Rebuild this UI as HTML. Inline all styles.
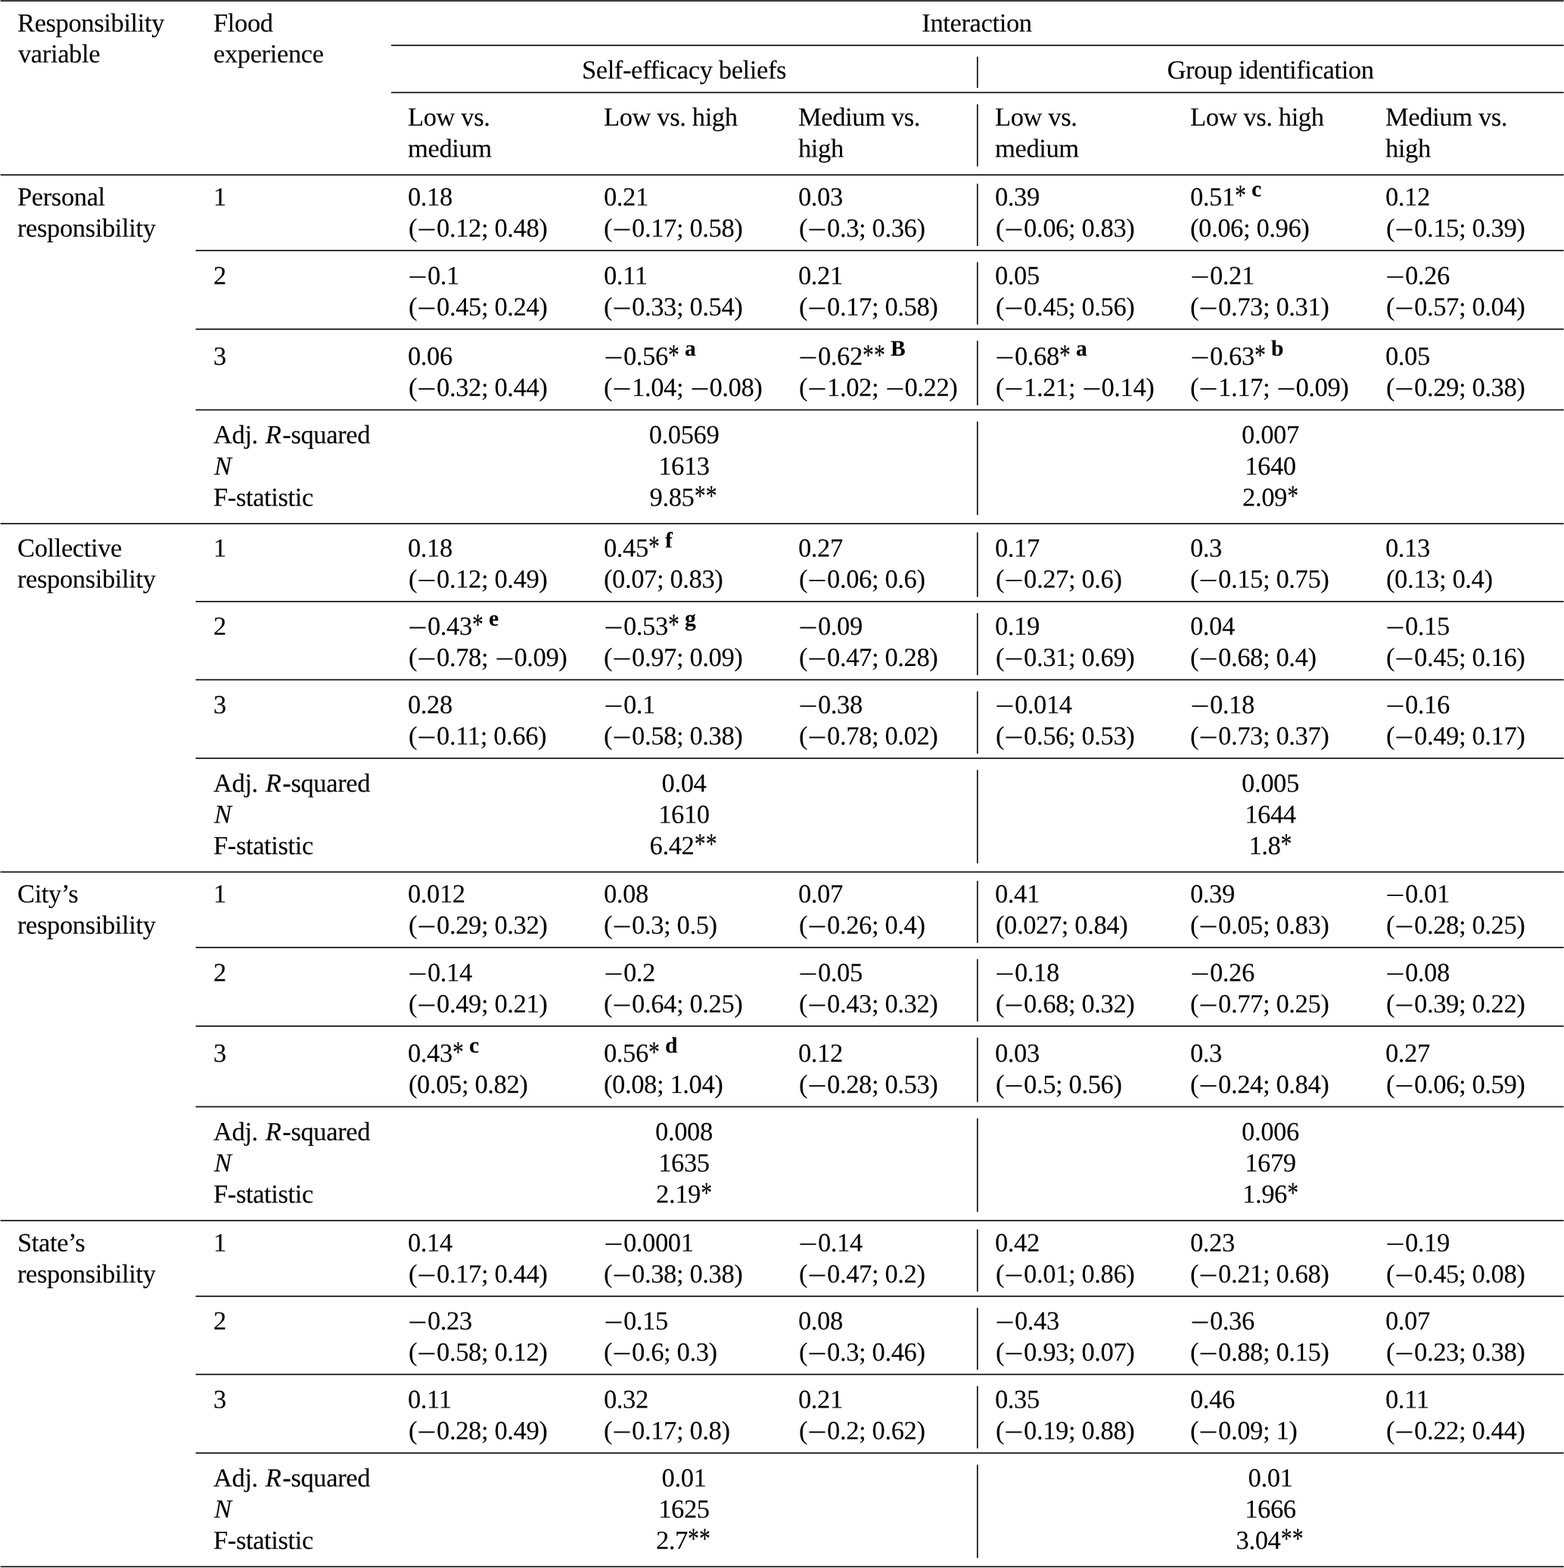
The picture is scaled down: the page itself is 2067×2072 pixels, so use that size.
<!DOCTYPE html>
<html lang="en"><head><meta charset="utf-8"><title>Table: interaction effects</title>
<style>
html,body{margin:0;padding:0;background:#fff;}
body{width:2067px;height:2072px;position:relative;overflow:hidden;
 font-family:"Liberation Serif","Times New Roman",Times,serif;font-size:34.5px;line-height:40.0px;letter-spacing:-0.375px;color:#000;text-rendering:geometricPrecision;-webkit-text-stroke:0.12px #000;}
.rules{position:absolute;left:0;top:0;fill:#111;}
.t{position:absolute;white-space:pre;height:40.0px;}
.m{display:inline-block;width:26px;text-align:center;letter-spacing:0;position:relative;top:2.4px;left:0.3px;transform:scaleX(1.30);}
.a{display:inline-block;width:15px;text-align:center;text-indent:-1.1px;position:relative;top:-2.5px;left:0.3px;letter-spacing:0;transform:scale(0.86,1.14);}
.s{font-weight:bold;font-size:29.5px;position:relative;top:-12.2px;margin-left:7.2px;line-height:0;letter-spacing:-0.5px;}
.sc{}
.g1{margin-right:1.6px}
.g2{margin-right:1.9px}
</style></head>
<body>
<svg class="rules" width="2067" height="2072" viewBox="0 0 2067 2072">
<rect x="0.60" y="0.30" width="2066.00" height="1.70"/>
<rect x="517.00" y="59.05" width="1549.60" height="1.70"/>
<rect x="517.00" y="121.45" width="1549.60" height="1.70"/>
<rect x="0.60" y="230.25" width="2066.00" height="1.70"/>
<rect x="258.60" y="330.23" width="1808.00" height="1.70"/>
<rect x="258.60" y="434.13" width="1808.00" height="1.70"/>
<rect x="258.60" y="540.75" width="1808.00" height="1.70"/>
<rect x="0.60" y="691.06" width="2066.00" height="1.70"/>
<rect x="258.60" y="794.03" width="1808.00" height="1.70"/>
<rect x="258.60" y="897.43" width="1808.00" height="1.70"/>
<rect x="258.60" y="1001.15" width="1808.00" height="1.70"/>
<rect x="0.60" y="1151.45" width="2066.00" height="1.70"/>
<rect x="258.60" y="1251.23" width="1808.00" height="1.70"/>
<rect x="258.60" y="1355.14" width="1808.00" height="1.70"/>
<rect x="258.60" y="1461.63" width="1808.00" height="1.70"/>
<rect x="0.60" y="1612.00" width="2066.00" height="1.70"/>
<rect x="258.60" y="1712.06" width="1808.00" height="1.70"/>
<rect x="258.60" y="1815.40" width="1808.00" height="1.70"/>
<rect x="258.60" y="1919.23" width="1808.00" height="1.70"/>
<rect x="0.60" y="2069.41" width="2066.00" height="1.70"/>
<rect x="1290.95" y="74.85" width="1.70" height="41.40"/>
<rect x="1290.95" y="137.80" width="1.70" height="81.95"/>
<rect x="1290.95" y="242.75" width="1.70" height="82.23"/>
<rect x="1290.95" y="346.38" width="1.70" height="82.50"/>
<rect x="1290.95" y="450.28" width="1.70" height="85.22"/>
<rect x="1290.95" y="557.00" width="1.70" height="123.51"/>
<rect x="1290.95" y="703.56" width="1.70" height="85.22"/>
<rect x="1290.95" y="810.18" width="1.70" height="82.00"/>
<rect x="1290.95" y="913.58" width="1.70" height="82.32"/>
<rect x="1290.95" y="1017.40" width="1.70" height="123.50"/>
<rect x="1290.95" y="1163.95" width="1.70" height="82.03"/>
<rect x="1290.95" y="1267.38" width="1.70" height="82.51"/>
<rect x="1290.95" y="1371.29" width="1.70" height="85.09"/>
<rect x="1290.95" y="1477.88" width="1.70" height="123.57"/>
<rect x="1290.95" y="1624.50" width="1.70" height="82.31"/>
<rect x="1290.95" y="1728.21" width="1.70" height="81.94"/>
<rect x="1290.95" y="1831.55" width="1.70" height="82.43"/>
<rect x="1290.95" y="1935.48" width="1.70" height="123.38"/>
</svg>
<div class="t" style="left:22.50px;top:10px;transform:translateY(0.75px) rotate(0.03deg)">Responsibility</div>
<div class="t" style="left:23.80px;top:51px;transform:translateY(0.50px) rotate(0.03deg)">variable</div>
<div class="t" style="left:281.60px;top:10px;transform:translateY(0.75px) rotate(0.03deg)">Flood</div>
<div class="t" style="left:281.60px;top:51px;transform:translateY(0.50px) rotate(0.03deg)">experience</div>
<div class="t" style="left:1290.60px;top:10px;transform:translate(-50%,0.75px) rotate(0.03deg)">Interaction</div>
<div class="t" style="left:904.00px;top:72px;transform:translate(-50%,0.75px) rotate(0.03deg)">Self-efficacy beliefs</div>
<div class="t" style="left:1679.00px;top:72px;transform:translate(-50%,0.75px) rotate(0.03deg)">Group identification</div>
<div class="t" style="left:539.10px;top:135px;transform:translateY(0.00px) rotate(0.03deg)">Low vs.</div>
<div class="t" style="left:539.10px;top:176px;transform:translateY(0.50px) rotate(0.03deg)">medium</div>
<div class="t" style="left:797.80px;top:135px;transform:translateY(0.00px) rotate(0.03deg)">Low vs. high</div>
<div class="t" style="left:1055.30px;top:135px;transform:translateY(0.00px) rotate(0.03deg)">Medium vs.</div>
<div class="t" style="left:1055.30px;top:176px;transform:translateY(0.50px) rotate(0.03deg)">high</div>
<div class="t" style="left:1315.10px;top:135px;transform:translateY(0.00px) rotate(0.03deg)">Low vs.</div>
<div class="t" style="left:1315.10px;top:176px;transform:translateY(0.50px) rotate(0.03deg)">medium</div>
<div class="t" style="left:1572.50px;top:135px;transform:translateY(0.00px) rotate(0.03deg)">Low vs. high</div>
<div class="t" style="left:1831.30px;top:135px;transform:translateY(0.00px) rotate(0.03deg)">Medium vs.</div>
<div class="t" style="left:1831.30px;top:176px;transform:translateY(0.50px) rotate(0.03deg)">high</div>
<div class="t" style="left:22.50px;top:240px;transform:translateY(0.50px) rotate(0.03deg)">Personal</div>
<div class="t" style="left:22.50px;top:281px;transform:translateY(0.75px) rotate(0.03deg)">responsibility</div>
<div class="t" style="left:281.60px;top:240px;transform:translateY(0.50px) rotate(0.03deg)">1</div>
<div class="t" style="left:539.10px;top:240px;transform:translateY(0.50px) rotate(0.03deg)">0.18</div>
<div class="t" style="left:539.70px;top:281px;transform:translateY(0.75px) rotate(0.03deg)">(<span class="m">−</span>0.12<span class="sc">;</span> 0.48)</div>
<div class="t" style="left:797.80px;top:240px;transform:translateY(0.50px) rotate(0.03deg)">0.21</div>
<div class="t" style="left:798.40px;top:281px;transform:translateY(0.75px) rotate(0.03deg)">(<span class="m">−</span>0.17<span class="sc">;</span> 0.58)</div>
<div class="t" style="left:1055.30px;top:240px;transform:translateY(0.50px) rotate(0.03deg)">0.03</div>
<div class="t" style="left:1055.90px;top:281px;transform:translateY(0.75px) rotate(0.03deg)">(<span class="m">−</span>0.3<span class="sc">;</span> 0.36)</div>
<div class="t" style="left:1315.10px;top:240px;transform:translateY(0.50px) rotate(0.03deg)">0.39</div>
<div class="t" style="left:1315.70px;top:281px;transform:translateY(0.75px) rotate(0.03deg)">(<span class="m">−</span>0.06<span class="sc">;</span> 0.83)</div>
<div class="t" style="left:1572.50px;top:240px;transform:translateY(0.50px) rotate(0.03deg)">0.51<span class="a">*</span><span class="s">c</span></div>
<div class="t" style="left:1573.10px;top:281px;transform:translateY(0.75px) rotate(0.03deg)">(0.06<span class="sc">;</span> 0.96)</div>
<div class="t" style="left:1831.30px;top:240px;transform:translateY(0.50px) rotate(0.03deg)">0.12</div>
<div class="t" style="left:1831.90px;top:281px;transform:translateY(0.75px) rotate(0.03deg)">(<span class="m">−</span>0.15<span class="sc">;</span> 0.39)</div>
<div class="t" style="left:281.60px;top:344px;transform:translateY(0.50px) rotate(0.03deg)">2</div>
<div class="t" style="left:539.10px;top:344px;transform:translateY(0.50px) rotate(0.03deg)"><span class="m">−</span>0.1</div>
<div class="t" style="left:539.70px;top:385px;transform:translateY(0.75px) rotate(0.03deg)">(<span class="m">−</span>0.45<span class="sc">;</span> 0.24)</div>
<div class="t" style="left:797.80px;top:344px;transform:translateY(0.50px) rotate(0.03deg)">0.11</div>
<div class="t" style="left:798.40px;top:385px;transform:translateY(0.75px) rotate(0.03deg)">(<span class="m">−</span>0.33<span class="sc">;</span> 0.54)</div>
<div class="t" style="left:1055.30px;top:344px;transform:translateY(0.50px) rotate(0.03deg)">0.21</div>
<div class="t" style="left:1055.90px;top:385px;transform:translateY(0.75px) rotate(0.03deg)">(<span class="m">−</span>0.17<span class="sc">;</span> 0.58)</div>
<div class="t" style="left:1315.10px;top:344px;transform:translateY(0.50px) rotate(0.03deg)">0.05</div>
<div class="t" style="left:1315.70px;top:385px;transform:translateY(0.75px) rotate(0.03deg)">(<span class="m">−</span>0.45<span class="sc">;</span> 0.56)</div>
<div class="t" style="left:1572.50px;top:344px;transform:translateY(0.50px) rotate(0.03deg)"><span class="m">−</span>0.21</div>
<div class="t" style="left:1573.10px;top:385px;transform:translateY(0.75px) rotate(0.03deg)">(<span class="m">−</span>0.73<span class="sc">;</span> 0.31)</div>
<div class="t" style="left:1831.30px;top:344px;transform:translateY(0.50px) rotate(0.03deg)"><span class="m">−</span>0.26</div>
<div class="t" style="left:1831.90px;top:385px;transform:translateY(0.75px) rotate(0.03deg)">(<span class="m">−</span>0.57<span class="sc">;</span> 0.04)</div>
<div class="t" style="left:281.60px;top:451px;transform:translateY(0.00px) rotate(0.03deg)">3</div>
<div class="t" style="left:539.10px;top:451px;transform:translateY(0.00px) rotate(0.03deg)">0.06</div>
<div class="t" style="left:539.70px;top:492px;transform:translateY(0.25px) rotate(0.03deg)">(<span class="m">−</span>0.32<span class="sc">;</span> 0.44)</div>
<div class="t" style="left:797.80px;top:451px;transform:translateY(0.00px) rotate(0.03deg)"><span class="m">−</span>0.56<span class="a">*</span><span class="s">a</span></div>
<div class="t" style="left:798.40px;top:492px;transform:translateY(0.25px) rotate(0.03deg)">(<span class="m">−</span>1.04<span class="sc">;</span> <span class="m">−</span>0.08)</div>
<div class="t" style="left:1055.30px;top:451px;transform:translateY(0.00px) rotate(0.03deg)"><span class="m">−</span>0.62<span class="a">*</span><span class="a">*</span><span class="s">B</span></div>
<div class="t" style="left:1055.90px;top:492px;transform:translateY(0.25px) rotate(0.03deg)">(<span class="m">−</span>1.02<span class="sc">;</span> <span class="m">−</span>0.22)</div>
<div class="t" style="left:1315.10px;top:451px;transform:translateY(0.00px) rotate(0.03deg)"><span class="m">−</span>0.68<span class="a">*</span><span class="s">a</span></div>
<div class="t" style="left:1315.70px;top:492px;transform:translateY(0.25px) rotate(0.03deg)">(<span class="m">−</span>1.21<span class="sc">;</span> <span class="m">−</span>0.14)</div>
<div class="t" style="left:1572.50px;top:451px;transform:translateY(0.00px) rotate(0.03deg)"><span class="m">−</span>0.63<span class="a">*</span><span class="s">b</span></div>
<div class="t" style="left:1573.10px;top:492px;transform:translateY(0.25px) rotate(0.03deg)">(<span class="m">−</span>1.17<span class="sc">;</span> <span class="m">−</span>0.09)</div>
<div class="t" style="left:1831.30px;top:451px;transform:translateY(0.00px) rotate(0.03deg)">0.05</div>
<div class="t" style="left:1831.90px;top:492px;transform:translateY(0.25px) rotate(0.03deg)">(<span class="m">−</span>0.29<span class="sc">;</span> 0.38)</div>
<div class="t" style="left:281.60px;top:554px;transform:translateY(0.75px) rotate(0.03deg)">Adj.<span class="g1"> </span><i class="g2">R</i>-squared</div>
<div class="t" style="left:283.10px;top:596px;transform:translateY(0.25px) rotate(0.03deg)"><i>N</i></div>
<div class="t" style="left:281.60px;top:637px;transform:translateY(0.50px) rotate(0.03deg)">F-statistic</div>
<div class="t" style="left:904.00px;top:554px;transform:translate(-50%,0.75px) rotate(0.03deg)">0.0569</div>
<div class="t" style="left:904.00px;top:596px;transform:translate(-50%,0.25px) rotate(0.03deg)">1613</div>
<div class="t" style="left:902.60px;top:637px;transform:translate(-50%,0.50px) rotate(0.03deg)">9.85<span class="a">*</span><span class="a">*</span></div>
<div class="t" style="left:1679.00px;top:554px;transform:translate(-50%,0.75px) rotate(0.03deg)">0.007</div>
<div class="t" style="left:1679.00px;top:596px;transform:translate(-50%,0.25px) rotate(0.03deg)">1640</div>
<div class="t" style="left:1679.00px;top:637px;transform:translate(-50%,0.50px) rotate(0.03deg)">2.09<span class="a">*</span></div>
<div class="t" style="left:22.50px;top:704px;transform:translateY(0.50px) rotate(0.03deg)">Collective</div>
<div class="t" style="left:22.50px;top:745px;transform:translateY(0.50px) rotate(0.03deg)">responsibility</div>
<div class="t" style="left:281.60px;top:704px;transform:translateY(0.50px) rotate(0.03deg)">1</div>
<div class="t" style="left:539.10px;top:704px;transform:translateY(0.50px) rotate(0.03deg)">0.18</div>
<div class="t" style="left:539.70px;top:745px;transform:translateY(0.50px) rotate(0.03deg)">(<span class="m">−</span>0.12<span class="sc">;</span> 0.49)</div>
<div class="t" style="left:797.80px;top:704px;transform:translateY(0.50px) rotate(0.03deg)">0.45<span class="a">*</span><span class="s">f</span></div>
<div class="t" style="left:798.40px;top:745px;transform:translateY(0.50px) rotate(0.03deg)">(0.07<span class="sc">;</span> 0.83)</div>
<div class="t" style="left:1055.30px;top:704px;transform:translateY(0.50px) rotate(0.03deg)">0.27</div>
<div class="t" style="left:1055.90px;top:745px;transform:translateY(0.50px) rotate(0.03deg)">(<span class="m">−</span>0.06<span class="sc">;</span> 0.6)</div>
<div class="t" style="left:1315.10px;top:704px;transform:translateY(0.50px) rotate(0.03deg)">0.17</div>
<div class="t" style="left:1315.70px;top:745px;transform:translateY(0.50px) rotate(0.03deg)">(<span class="m">−</span>0.27<span class="sc">;</span> 0.6)</div>
<div class="t" style="left:1572.50px;top:704px;transform:translateY(0.50px) rotate(0.03deg)">0.3</div>
<div class="t" style="left:1573.10px;top:745px;transform:translateY(0.50px) rotate(0.03deg)">(<span class="m">−</span>0.15<span class="sc">;</span> 0.75)</div>
<div class="t" style="left:1831.30px;top:704px;transform:translateY(0.50px) rotate(0.03deg)">0.13</div>
<div class="t" style="left:1831.90px;top:745px;transform:translateY(0.50px) rotate(0.03deg)">(0.13<span class="sc">;</span> 0.4)</div>
<div class="t" style="left:281.60px;top:807px;transform:translateY(0.75px) rotate(0.03deg)">2</div>
<div class="t" style="left:539.10px;top:807px;transform:translateY(0.75px) rotate(0.03deg)"><span class="m">−</span>0.43<span class="a">*</span><span class="s">e</span></div>
<div class="t" style="left:539.70px;top:849px;transform:translateY(0.00px) rotate(0.03deg)">(<span class="m">−</span>0.78<span class="sc">;</span> <span class="m">−</span>0.09)</div>
<div class="t" style="left:797.80px;top:807px;transform:translateY(0.75px) rotate(0.03deg)"><span class="m">−</span>0.53<span class="a">*</span><span class="s">g</span></div>
<div class="t" style="left:798.40px;top:849px;transform:translateY(0.00px) rotate(0.03deg)">(<span class="m">−</span>0.97<span class="sc">;</span> 0.09)</div>
<div class="t" style="left:1055.30px;top:807px;transform:translateY(0.75px) rotate(0.03deg)"><span class="m">−</span>0.09</div>
<div class="t" style="left:1055.90px;top:849px;transform:translateY(0.00px) rotate(0.03deg)">(<span class="m">−</span>0.47<span class="sc">;</span> 0.28)</div>
<div class="t" style="left:1315.10px;top:807px;transform:translateY(0.75px) rotate(0.03deg)">0.19</div>
<div class="t" style="left:1315.70px;top:849px;transform:translateY(0.00px) rotate(0.03deg)">(<span class="m">−</span>0.31<span class="sc">;</span> 0.69)</div>
<div class="t" style="left:1572.50px;top:807px;transform:translateY(0.75px) rotate(0.03deg)">0.04</div>
<div class="t" style="left:1573.10px;top:849px;transform:translateY(0.00px) rotate(0.03deg)">(<span class="m">−</span>0.68<span class="sc">;</span> 0.4)</div>
<div class="t" style="left:1831.30px;top:807px;transform:translateY(0.75px) rotate(0.03deg)"><span class="m">−</span>0.15</div>
<div class="t" style="left:1831.90px;top:849px;transform:translateY(0.00px) rotate(0.03deg)">(<span class="m">−</span>0.45<span class="sc">;</span> 0.16)</div>
<div class="t" style="left:281.60px;top:911px;transform:translateY(0.50px) rotate(0.03deg)">3</div>
<div class="t" style="left:539.10px;top:911px;transform:translateY(0.50px) rotate(0.03deg)">0.28</div>
<div class="t" style="left:539.70px;top:952px;transform:translateY(0.75px) rotate(0.03deg)">(<span class="m">−</span>0.11<span class="sc">;</span> 0.66)</div>
<div class="t" style="left:797.80px;top:911px;transform:translateY(0.50px) rotate(0.03deg)"><span class="m">−</span>0.1</div>
<div class="t" style="left:798.40px;top:952px;transform:translateY(0.75px) rotate(0.03deg)">(<span class="m">−</span>0.58<span class="sc">;</span> 0.38)</div>
<div class="t" style="left:1055.30px;top:911px;transform:translateY(0.50px) rotate(0.03deg)"><span class="m">−</span>0.38</div>
<div class="t" style="left:1055.90px;top:952px;transform:translateY(0.75px) rotate(0.03deg)">(<span class="m">−</span>0.78<span class="sc">;</span> 0.02)</div>
<div class="t" style="left:1315.10px;top:911px;transform:translateY(0.50px) rotate(0.03deg)"><span class="m">−</span>0.014</div>
<div class="t" style="left:1315.70px;top:952px;transform:translateY(0.75px) rotate(0.03deg)">(<span class="m">−</span>0.56<span class="sc">;</span> 0.53)</div>
<div class="t" style="left:1572.50px;top:911px;transform:translateY(0.50px) rotate(0.03deg)"><span class="m">−</span>0.18</div>
<div class="t" style="left:1573.10px;top:952px;transform:translateY(0.75px) rotate(0.03deg)">(<span class="m">−</span>0.73<span class="sc">;</span> 0.37)</div>
<div class="t" style="left:1831.30px;top:911px;transform:translateY(0.50px) rotate(0.03deg)"><span class="m">−</span>0.16</div>
<div class="t" style="left:1831.90px;top:952px;transform:translateY(0.75px) rotate(0.03deg)">(<span class="m">−</span>0.49<span class="sc">;</span> 0.17)</div>
<div class="t" style="left:281.60px;top:1015px;transform:translateY(0.25px) rotate(0.03deg)">Adj.<span class="g1"> </span><i class="g2">R</i>-squared</div>
<div class="t" style="left:283.10px;top:1056px;transform:translateY(0.50px) rotate(0.03deg)"><i>N</i></div>
<div class="t" style="left:281.60px;top:1097px;transform:translateY(0.75px) rotate(0.03deg)">F-statistic</div>
<div class="t" style="left:904.00px;top:1015px;transform:translate(-50%,0.25px) rotate(0.03deg)">0.04</div>
<div class="t" style="left:904.00px;top:1056px;transform:translate(-50%,0.50px) rotate(0.03deg)">1610</div>
<div class="t" style="left:902.60px;top:1097px;transform:translate(-50%,0.75px) rotate(0.03deg)">6.42<span class="a">*</span><span class="a">*</span></div>
<div class="t" style="left:1679.00px;top:1015px;transform:translate(-50%,0.25px) rotate(0.03deg)">0.005</div>
<div class="t" style="left:1679.00px;top:1056px;transform:translate(-50%,0.50px) rotate(0.03deg)">1644</div>
<div class="t" style="left:1679.00px;top:1097px;transform:translate(-50%,0.75px) rotate(0.03deg)">1.8<span class="a">*</span></div>
<div class="t" style="left:22.50px;top:1161px;transform:translateY(0.50px) rotate(0.03deg)">City’s</div>
<div class="t" style="left:22.50px;top:1202px;transform:translateY(0.75px) rotate(0.03deg)">responsibility</div>
<div class="t" style="left:281.60px;top:1161px;transform:translateY(0.50px) rotate(0.03deg)">1</div>
<div class="t" style="left:539.10px;top:1161px;transform:translateY(0.50px) rotate(0.03deg)">0.012</div>
<div class="t" style="left:539.70px;top:1202px;transform:translateY(0.75px) rotate(0.03deg)">(<span class="m">−</span>0.29<span class="sc">;</span> 0.32)</div>
<div class="t" style="left:797.80px;top:1161px;transform:translateY(0.50px) rotate(0.03deg)">0.08</div>
<div class="t" style="left:798.40px;top:1202px;transform:translateY(0.75px) rotate(0.03deg)">(<span class="m">−</span>0.3<span class="sc">;</span> 0.5)</div>
<div class="t" style="left:1055.30px;top:1161px;transform:translateY(0.50px) rotate(0.03deg)">0.07</div>
<div class="t" style="left:1055.90px;top:1202px;transform:translateY(0.75px) rotate(0.03deg)">(<span class="m">−</span>0.26<span class="sc">;</span> 0.4)</div>
<div class="t" style="left:1315.10px;top:1161px;transform:translateY(0.50px) rotate(0.03deg)">0.41</div>
<div class="t" style="left:1315.70px;top:1202px;transform:translateY(0.75px) rotate(0.03deg)">(0.027<span class="sc">;</span> 0.84)</div>
<div class="t" style="left:1572.50px;top:1161px;transform:translateY(0.50px) rotate(0.03deg)">0.39</div>
<div class="t" style="left:1573.10px;top:1202px;transform:translateY(0.75px) rotate(0.03deg)">(<span class="m">−</span>0.05<span class="sc">;</span> 0.83)</div>
<div class="t" style="left:1831.30px;top:1161px;transform:translateY(0.50px) rotate(0.03deg)"><span class="m">−</span>0.01</div>
<div class="t" style="left:1831.90px;top:1202px;transform:translateY(0.75px) rotate(0.03deg)">(<span class="m">−</span>0.28<span class="sc">;</span> 0.25)</div>
<div class="t" style="left:281.60px;top:1265px;transform:translateY(0.50px) rotate(0.03deg)">2</div>
<div class="t" style="left:539.10px;top:1265px;transform:translateY(0.50px) rotate(0.03deg)"><span class="m">−</span>0.14</div>
<div class="t" style="left:539.70px;top:1306px;transform:translateY(0.75px) rotate(0.03deg)">(<span class="m">−</span>0.49<span class="sc">;</span> 0.21)</div>
<div class="t" style="left:797.80px;top:1265px;transform:translateY(0.50px) rotate(0.03deg)"><span class="m">−</span>0.2</div>
<div class="t" style="left:798.40px;top:1306px;transform:translateY(0.75px) rotate(0.03deg)">(<span class="m">−</span>0.64<span class="sc">;</span> 0.25)</div>
<div class="t" style="left:1055.30px;top:1265px;transform:translateY(0.50px) rotate(0.03deg)"><span class="m">−</span>0.05</div>
<div class="t" style="left:1055.90px;top:1306px;transform:translateY(0.75px) rotate(0.03deg)">(<span class="m">−</span>0.43<span class="sc">;</span> 0.32)</div>
<div class="t" style="left:1315.10px;top:1265px;transform:translateY(0.50px) rotate(0.03deg)"><span class="m">−</span>0.18</div>
<div class="t" style="left:1315.70px;top:1306px;transform:translateY(0.75px) rotate(0.03deg)">(<span class="m">−</span>0.68<span class="sc">;</span> 0.32)</div>
<div class="t" style="left:1572.50px;top:1265px;transform:translateY(0.50px) rotate(0.03deg)"><span class="m">−</span>0.26</div>
<div class="t" style="left:1573.10px;top:1306px;transform:translateY(0.75px) rotate(0.03deg)">(<span class="m">−</span>0.77<span class="sc">;</span> 0.25)</div>
<div class="t" style="left:1831.30px;top:1265px;transform:translateY(0.50px) rotate(0.03deg)"><span class="m">−</span>0.08</div>
<div class="t" style="left:1831.90px;top:1306px;transform:translateY(0.75px) rotate(0.03deg)">(<span class="m">−</span>0.39<span class="sc">;</span> 0.22)</div>
<div class="t" style="left:281.60px;top:1372px;transform:translateY(0.00px) rotate(0.03deg)">3</div>
<div class="t" style="left:539.10px;top:1372px;transform:translateY(0.00px) rotate(0.03deg)">0.43<span class="a">*</span><span class="s">c</span></div>
<div class="t" style="left:539.70px;top:1413px;transform:translateY(0.25px) rotate(0.03deg)">(0.05<span class="sc">;</span> 0.82)</div>
<div class="t" style="left:797.80px;top:1372px;transform:translateY(0.00px) rotate(0.03deg)">0.56<span class="a">*</span><span class="s">d</span></div>
<div class="t" style="left:798.40px;top:1413px;transform:translateY(0.25px) rotate(0.03deg)">(0.08<span class="sc">;</span> 1.04)</div>
<div class="t" style="left:1055.30px;top:1372px;transform:translateY(0.00px) rotate(0.03deg)">0.12</div>
<div class="t" style="left:1055.90px;top:1413px;transform:translateY(0.25px) rotate(0.03deg)">(<span class="m">−</span>0.28<span class="sc">;</span> 0.53)</div>
<div class="t" style="left:1315.10px;top:1372px;transform:translateY(0.00px) rotate(0.03deg)">0.03</div>
<div class="t" style="left:1315.70px;top:1413px;transform:translateY(0.25px) rotate(0.03deg)">(<span class="m">−</span>0.5<span class="sc">;</span> 0.56)</div>
<div class="t" style="left:1572.50px;top:1372px;transform:translateY(0.00px) rotate(0.03deg)">0.3</div>
<div class="t" style="left:1573.10px;top:1413px;transform:translateY(0.25px) rotate(0.03deg)">(<span class="m">−</span>0.24<span class="sc">;</span> 0.84)</div>
<div class="t" style="left:1831.30px;top:1372px;transform:translateY(0.00px) rotate(0.03deg)">0.27</div>
<div class="t" style="left:1831.90px;top:1413px;transform:translateY(0.25px) rotate(0.03deg)">(<span class="m">−</span>0.06<span class="sc">;</span> 0.59)</div>
<div class="t" style="left:281.60px;top:1475px;transform:translateY(0.75px) rotate(0.03deg)">Adj.<span class="g1"> </span><i class="g2">R</i>-squared</div>
<div class="t" style="left:283.10px;top:1517px;transform:translateY(0.00px) rotate(0.03deg)"><i>N</i></div>
<div class="t" style="left:281.60px;top:1558px;transform:translateY(0.25px) rotate(0.03deg)">F-statistic</div>
<div class="t" style="left:904.00px;top:1475px;transform:translate(-50%,0.75px) rotate(0.03deg)">0.008</div>
<div class="t" style="left:904.00px;top:1517px;transform:translate(-50%,0.00px) rotate(0.03deg)">1635</div>
<div class="t" style="left:904.00px;top:1558px;transform:translate(-50%,0.25px) rotate(0.03deg)">2.19<span class="a">*</span></div>
<div class="t" style="left:1679.00px;top:1475px;transform:translate(-50%,0.75px) rotate(0.03deg)">0.006</div>
<div class="t" style="left:1679.00px;top:1517px;transform:translate(-50%,0.00px) rotate(0.03deg)">1679</div>
<div class="t" style="left:1679.00px;top:1558px;transform:translate(-50%,0.25px) rotate(0.03deg)">1.96<span class="a">*</span></div>
<div class="t" style="left:22.50px;top:1622px;transform:translateY(0.50px) rotate(0.03deg)">State’s</div>
<div class="t" style="left:22.50px;top:1663px;transform:translateY(0.75px) rotate(0.03deg)">responsibility</div>
<div class="t" style="left:281.60px;top:1622px;transform:translateY(0.50px) rotate(0.03deg)">1</div>
<div class="t" style="left:539.10px;top:1622px;transform:translateY(0.50px) rotate(0.03deg)">0.14</div>
<div class="t" style="left:539.70px;top:1663px;transform:translateY(0.75px) rotate(0.03deg)">(<span class="m">−</span>0.17<span class="sc">;</span> 0.44)</div>
<div class="t" style="left:797.80px;top:1622px;transform:translateY(0.50px) rotate(0.03deg)"><span class="m">−</span>0.0001</div>
<div class="t" style="left:798.40px;top:1663px;transform:translateY(0.75px) rotate(0.03deg)">(<span class="m">−</span>0.38<span class="sc">;</span> 0.38)</div>
<div class="t" style="left:1055.30px;top:1622px;transform:translateY(0.50px) rotate(0.03deg)"><span class="m">−</span>0.14</div>
<div class="t" style="left:1055.90px;top:1663px;transform:translateY(0.75px) rotate(0.03deg)">(<span class="m">−</span>0.47<span class="sc">;</span> 0.2)</div>
<div class="t" style="left:1315.10px;top:1622px;transform:translateY(0.50px) rotate(0.03deg)">0.42</div>
<div class="t" style="left:1315.70px;top:1663px;transform:translateY(0.75px) rotate(0.03deg)">(<span class="m">−</span>0.01<span class="sc">;</span> 0.86)</div>
<div class="t" style="left:1572.50px;top:1622px;transform:translateY(0.50px) rotate(0.03deg)">0.23</div>
<div class="t" style="left:1573.10px;top:1663px;transform:translateY(0.75px) rotate(0.03deg)">(<span class="m">−</span>0.21<span class="sc">;</span> 0.68)</div>
<div class="t" style="left:1831.30px;top:1622px;transform:translateY(0.50px) rotate(0.03deg)"><span class="m">−</span>0.19</div>
<div class="t" style="left:1831.90px;top:1663px;transform:translateY(0.75px) rotate(0.03deg)">(<span class="m">−</span>0.45<span class="sc">;</span> 0.08)</div>
<div class="t" style="left:281.60px;top:1725px;transform:translateY(0.75px) rotate(0.03deg)">2</div>
<div class="t" style="left:539.10px;top:1725px;transform:translateY(0.75px) rotate(0.03deg)"><span class="m">−</span>0.23</div>
<div class="t" style="left:539.70px;top:1767px;transform:translateY(0.00px) rotate(0.03deg)">(<span class="m">−</span>0.58<span class="sc">;</span> 0.12)</div>
<div class="t" style="left:797.80px;top:1725px;transform:translateY(0.75px) rotate(0.03deg)"><span class="m">−</span>0.15</div>
<div class="t" style="left:798.40px;top:1767px;transform:translateY(0.00px) rotate(0.03deg)">(<span class="m">−</span>0.6<span class="sc">;</span> 0.3)</div>
<div class="t" style="left:1055.30px;top:1725px;transform:translateY(0.75px) rotate(0.03deg)">0.08</div>
<div class="t" style="left:1055.90px;top:1767px;transform:translateY(0.00px) rotate(0.03deg)">(<span class="m">−</span>0.3<span class="sc">;</span> 0.46)</div>
<div class="t" style="left:1315.10px;top:1725px;transform:translateY(0.75px) rotate(0.03deg)"><span class="m">−</span>0.43</div>
<div class="t" style="left:1315.70px;top:1767px;transform:translateY(0.00px) rotate(0.03deg)">(<span class="m">−</span>0.93<span class="sc">;</span> 0.07)</div>
<div class="t" style="left:1572.50px;top:1725px;transform:translateY(0.75px) rotate(0.03deg)"><span class="m">−</span>0.36</div>
<div class="t" style="left:1573.10px;top:1767px;transform:translateY(0.00px) rotate(0.03deg)">(<span class="m">−</span>0.88<span class="sc">;</span> 0.15)</div>
<div class="t" style="left:1831.30px;top:1725px;transform:translateY(0.75px) rotate(0.03deg)">0.07</div>
<div class="t" style="left:1831.90px;top:1767px;transform:translateY(0.00px) rotate(0.03deg)">(<span class="m">−</span>0.23<span class="sc">;</span> 0.38)</div>
<div class="t" style="left:281.60px;top:1829px;transform:translateY(0.50px) rotate(0.03deg)">3</div>
<div class="t" style="left:539.10px;top:1829px;transform:translateY(0.50px) rotate(0.03deg)">0.11</div>
<div class="t" style="left:539.70px;top:1870px;transform:translateY(0.75px) rotate(0.03deg)">(<span class="m">−</span>0.28<span class="sc">;</span> 0.49)</div>
<div class="t" style="left:797.80px;top:1829px;transform:translateY(0.50px) rotate(0.03deg)">0.32</div>
<div class="t" style="left:798.40px;top:1870px;transform:translateY(0.75px) rotate(0.03deg)">(<span class="m">−</span>0.17<span class="sc">;</span> 0.8)</div>
<div class="t" style="left:1055.30px;top:1829px;transform:translateY(0.50px) rotate(0.03deg)">0.21</div>
<div class="t" style="left:1055.90px;top:1870px;transform:translateY(0.75px) rotate(0.03deg)">(<span class="m">−</span>0.2<span class="sc">;</span> 0.62)</div>
<div class="t" style="left:1315.10px;top:1829px;transform:translateY(0.50px) rotate(0.03deg)">0.35</div>
<div class="t" style="left:1315.70px;top:1870px;transform:translateY(0.75px) rotate(0.03deg)">(<span class="m">−</span>0.19<span class="sc">;</span> 0.88)</div>
<div class="t" style="left:1572.50px;top:1829px;transform:translateY(0.50px) rotate(0.03deg)">0.46</div>
<div class="t" style="left:1573.10px;top:1870px;transform:translateY(0.75px) rotate(0.03deg)">(<span class="m">−</span>0.09<span class="sc">;</span> 1)</div>
<div class="t" style="left:1831.30px;top:1829px;transform:translateY(0.50px) rotate(0.03deg)">0.11</div>
<div class="t" style="left:1831.90px;top:1870px;transform:translateY(0.75px) rotate(0.03deg)">(<span class="m">−</span>0.22<span class="sc">;</span> 0.44)</div>
<div class="t" style="left:281.60px;top:1933px;transform:translateY(0.25px) rotate(0.03deg)">Adj.<span class="g1"> </span><i class="g2">R</i>-squared</div>
<div class="t" style="left:283.10px;top:1974px;transform:translateY(0.50px) rotate(0.03deg)"><i>N</i></div>
<div class="t" style="left:281.60px;top:2015px;transform:translateY(0.75px) rotate(0.03deg)">F-statistic</div>
<div class="t" style="left:904.00px;top:1933px;transform:translate(-50%,0.25px) rotate(0.03deg)">0.01</div>
<div class="t" style="left:904.00px;top:1974px;transform:translate(-50%,0.50px) rotate(0.03deg)">1625</div>
<div class="t" style="left:902.60px;top:2015px;transform:translate(-50%,0.75px) rotate(0.03deg)">2.7<span class="a">*</span><span class="a">*</span></div>
<div class="t" style="left:1679.00px;top:1933px;transform:translate(-50%,0.25px) rotate(0.03deg)">0.01</div>
<div class="t" style="left:1679.00px;top:1974px;transform:translate(-50%,0.50px) rotate(0.03deg)">1666</div>
<div class="t" style="left:1677.60px;top:2015px;transform:translate(-50%,0.75px) rotate(0.03deg)">3.04<span class="a">*</span><span class="a">*</span></div>
</body></html>
